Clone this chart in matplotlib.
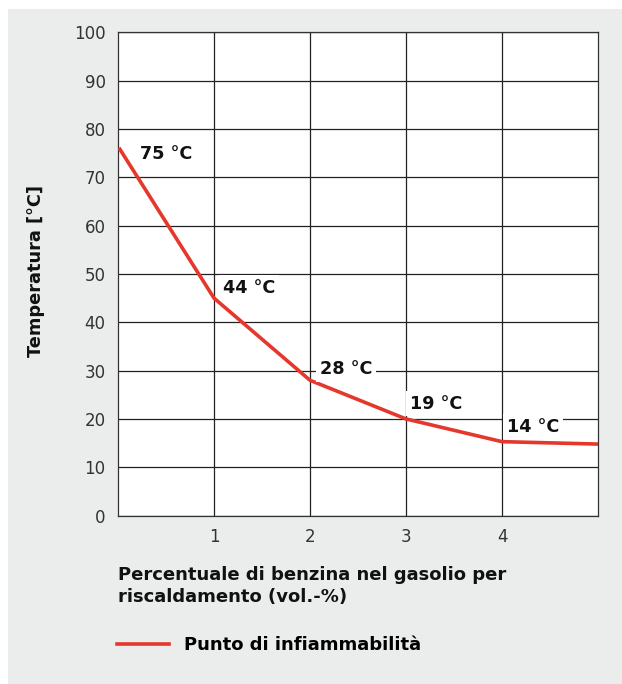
import numpy as np
import matplotlib
matplotlib.use('Agg')
import matplotlib.pyplot as plt
from matplotlib.patches import Rectangle

plt.rcParams['font.family'] = ['DejaVu Sans']

# data
benzina = [0.02, 1, 2, 3, 4, 5]
temperatura = [75.8, 45.0, 28.0, 20.0, 15.3, 14.8]
label_x = [0.23, 1.09, 2.10, 3.04, 4.05]
label_y = [73.8, 46.1, 29.2, 22.1, 17.4]
label_txt = ["75 °C", "44 °C", "28 °C", "19 °C", "14 °C"]
yticks = np.arange(0, 101, 10)
xticks = [1, 2, 3, 4]

W, H = 622, 684
fig = plt.figure(figsize=(W / 100, H / 100), dpi=100, facecolor='white')

# gray panel behind everything
fig.patches.append(Rectangle((8 / W, 0), 1 - 8 / W, 1 - 9 / H,
                             transform=fig.transFigure, facecolor='#ebecec',
                             edgecolor='none', zorder=-5))

ax = fig.add_axes([118 / W, (H - 515.6) / H, 480 / W, 483.3 / H])
ax.set_zorder(2)
ax.set_facecolor('white')
ax.set_xlim(0, 5)
ax.set_ylim(0, 100)
ax.set_yticks(yticks)
ax.set_xticks(xticks)
ax.grid(True, color='#222222', linewidth=0.9)
ax.set_axisbelow(True)
for s in ax.spines.values():
    s.set_color('#333333')
    s.set_linewidth(0.9)
ax.tick_params(length=0, labelsize=12, labelcolor='#333333')
ax.tick_params(axis='y', pad=9)
ax.tick_params(axis='x', pad=9)

line, = ax.plot(benzina, temperatura, color='#e5372b', linewidth=2.6,
                solid_joinstyle='miter', label='Punto di infiammabilità', zorder=3)

for x, y, t in zip(label_x, label_y, label_txt):
    ax.text(x, y, t, fontsize=12.7, fontweight='bold', color='#111111',
            ha='left', va='baseline', zorder=4,
            bbox=dict(facecolor='white', edgecolor='none', pad=2.5))

fig.text(36 / W, 1 - 271 / H, "Temperatura [°C]", rotation=90, fontsize=12.8,
         fontweight='bold', color='#111111', ha='center', va='center')

fig.text(118 / W, 1 - 566 / H, "Percentuale di benzina nel gasolio per\nriscaldamento (vol.-%)",
         fontsize=13, fontweight='bold', color='#111111', ha='left', va='top',
         linespacing=1.3)

fig.legend(handles=[line], loc='center left', bbox_to_anchor=(117 / W, 1 - 645 / H),
           frameon=False, handlelength=2.9, handletextpad=0.8,
           borderpad=0, borderaxespad=0, prop={'weight': 'bold', 'size': 13})

fig.savefig('out.png', dpi=100, facecolor='white')
